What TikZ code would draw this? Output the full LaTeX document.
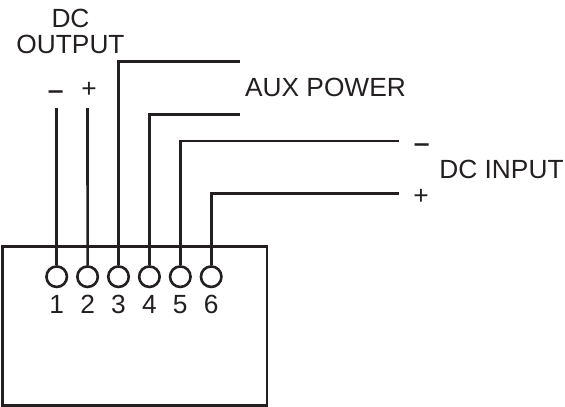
\documentclass[tikz,border=0pt]{standalone}
\usepackage{fontspec}
\setmainfont{Liberation Sans}
\newfontface\sgnfont[FakeStretch=1.8]{Liberation Sans}
\usetikzlibrary{matrix,positioning}

\definecolor{inkc}{HTML}{231F20}
\tikzset{
  wire/.style={draw=inkc, line width=2.6pt},
  pinc/.style={draw=inkc, line width=2.6pt, circle, inner sep=0pt, minimum size=20.5pt},
  lbl/.style={text=inkc, inner sep=0pt, anchor=base, font=\fontsize{26.3}{25.5}\selectfont},
  sgn/.style={text=inkc, inner sep=0pt, anchor=base, font=\fontsize{32}{32}\sgnfont}
}

\begin{document}
\begin{tikzpicture}[x=1pt, y=-1pt]
  \useasboundingbox (0,0) rectangle (565,407);

  \node (box) [draw=inkc, line width=2.6pt, inner sep=0pt, outer sep=0pt, anchor=north west,
    minimum width=264.5pt, minimum height=158.5pt] at (2.5,246.7) {};

  \matrix (m) [matrix of nodes, matrix anchor=m-1-1.center, column sep=7.8pt, row sep=7pt,
    row 1/.style={nodes={pinc}}, row 2/.style={nodes={text=inkc, inner sep=0pt, font=\fontsize{26.3}{25.5}\selectfont}}]
    at (56.7,276.7)
  {
    {} & {} & {} & {} & {} & {} \\
    1 & 2 & 3 & 4 & 5 & 6 \\
  };

  \coordinate (top1) at (56.7,108);
  \coordinate (top2) at (87.5,108);
  \coordinate (aux3) at (240,61.7);
  \coordinate (aux4) at (240,114.7);
  \coordinate (in5) at (398.7,141);
  \coordinate (in6) at (398.7,193.7);

  \draw[wire] (m-1-1.north) -- (top1);
  \draw[wire] (m-1-2.north) -- (top2);
  \draw[wire] (m-1-3.north) |- (aux3);
  \draw[wire] (m-1-4.north) |- (aux4);
  \draw[wire] (m-1-5.north) |- (in5);
  \draw[wire] (m-1-6.north) |- (in6);

  \node (dcout) [lbl, align=center] at (70.5,53) {DC\\OUTPUT};
  \node (outm) [sgn] at (55.7,100.6) {-};
  \node (outp) [lbl] at (89,97) {+};
  \node (aux) [lbl] at (325.5,96) {AUX POWER};
  \node (inm) [sgn] at (421.7,153.6) {-};
  \node (dcin) [lbl] at (501.5,178) {DC INPUT};
  \node (inp) [lbl] at (421,204) {+};
\end{tikzpicture}
\end{document}
